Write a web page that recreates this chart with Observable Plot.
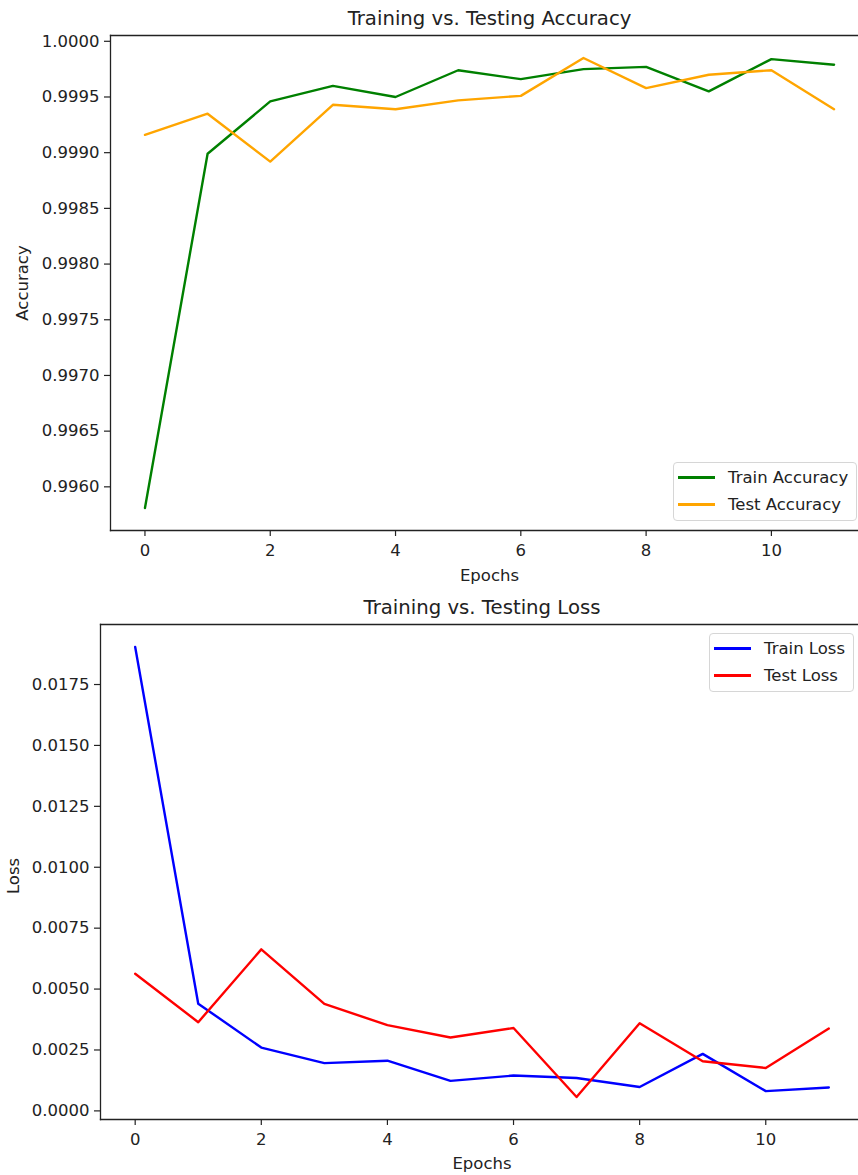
<!DOCTYPE html>
<html>
<head>
<meta charset="utf-8">
<script src="https://cdn.jsdelivr.net/npm/d3@7"></script>
<script src="https://cdn.jsdelivr.net/npm/@observablehq/plot@0.6"></script>
<style>
  html, body { margin: 0; padding: 0; background: #fff; }
  body { position: relative; width: 858px; height: 1175px; overflow: hidden; font-family: "DejaVu Sans", sans-serif; }
  .panel { position: absolute; left: 0; width: 858px; }
  .panel svg { max-width: none !important; display: block; }
  .legend {
    position: absolute; box-sizing: border-box; background: rgba(255,255,255,0.8);
    border: 1px solid #d6d6d6; border-radius: 4px; font-size: 16.5px; color: #222;
    padding: 1px 6px 0 4px;
  }
  .legend .row { display: flex; align-items: center; height: 27px; white-space: nowrap; }
  .legend .swatch { width: 37px; height: 2.5px; margin-right: 13px; }
</style>
</head>
<body>
<div id="acc" class="panel" style="top:0"></div>
<div id="loss" class="panel" style="top:590px"></div>
<script>
// Per-epoch training history
const epochs = [0, 1, 2, 3, 4, 5, 6, 7, 8, 9, 10, 11];
const trainAccuracy = [0.99581, 0.99899, 0.99946, 0.99960, 0.99950, 0.99974, 0.99966, 0.99975, 0.99977, 0.99955, 0.99984, 0.99979];
const testAccuracy  = [0.99916, 0.99935, 0.99892, 0.99943, 0.99939, 0.99947, 0.99951, 0.99985, 0.99958, 0.99970, 0.99974, 0.99939];
const trainLoss = [0.01904, 0.00440, 0.00260, 0.00196, 0.00206, 0.00123, 0.00145, 0.00135, 0.00098, 0.00234, 0.00081, 0.00096];
const testLoss  = [0.00563, 0.00364, 0.00663, 0.00439, 0.00352, 0.00301, 0.00340, 0.00057, 0.00360, 0.00204, 0.00176, 0.00338];

// Axis ticks
const epochTicks = [0, 2, 4, 6, 8, 10];
const accuracyTicks = [0.9960, 0.9965, 0.9970, 0.9975, 0.9980, 0.9985, 0.9990, 0.9995, 1.0000];
const lossTicks = [0.0000, 0.0025, 0.0050, 0.0075, 0.0100, 0.0125, 0.0150, 0.0175];

// Series labels and colours
const accuracySeries = [
  {name: "Train Accuracy", values: trainAccuracy, color: "green"},
  {name: "Test Accuracy", values: testAccuracy, color: "orange"}
];
const lossSeries = [
  {name: "Train Loss", values: trainLoss, color: "blue"},
  {name: "Test Loss", values: testLoss, color: "red"}
];

// Pad an extent by 5% on each side
function padded(values) {
  const [lo, hi] = d3.extent(values);
  const m = (hi - lo) * 0.05;
  return [lo - m, hi + m];
}

function toRows(series) {
  return series.flatMap(s => epochs.map((e, i) => ({epoch: e, value: s.values[i], series: s.name})));
}

const TEXT = "#222";

// The axes run a little past the right edge of the page, so the right margin is negative
function panel({series, ticks, title, yLabel, marginLeft, marginRight, marginTop, marginBottom, height, xLabelDy, yLabelDx, yLabelDy}) {
  const rows = toRows(series);
  const spine = {stroke: TEXT, strokeWidth: 1.3};
  return Plot.plot({
    width: 858,
    height,
    marginLeft, marginRight, marginTop, marginBottom,
    style: {fontFamily: "DejaVu Sans, sans-serif", fontSize: "16.5px", color: TEXT, background: "transparent", overflow: "hidden", maxWidth: "none"},
    x: {domain: padded(epochs), label: null},
    y: {domain: padded(rows.map(d => d.value)), label: null},
    color: {domain: series.map(s => s.name), range: series.map(s => s.color)},
    marks: [
      Plot.axisX({ticks: epochTicks, tickFormat: d3.format("d"), tickSize: 6, tickPadding: 7.5, stroke: TEXT, strokeWidth: 1.2, label: null}),
      Plot.axisY({ticks, tickFormat: d3.format(".4f"), tickSize: 6, tickPadding: 5, stroke: TEXT, strokeWidth: 1.2, label: null}),
      ...series.map(s => Plot.line(rows.filter(d => d.series === s.name), {
        x: "epoch", y: "value", stroke: "series", strokeWidth: 2.4, strokeLinejoin: "round"
      })),
      Plot.frame({anchor: "top", ...spine}),
      Plot.frame({anchor: "left", ...spine}),
      Plot.frame({anchor: "bottom", ...spine}),
      Plot.text([title], {frameAnchor: "top", lineAnchor: "middle", dy: -16.5, fontSize: 19.7, fill: TEXT}),
      Plot.text(["Epochs"], {frameAnchor: "bottom", lineAnchor: "middle", dy: xLabelDy, fill: TEXT}),
      Plot.text([yLabel], {frameAnchor: "left", lineAnchor: "middle", rotate: -90, textAnchor: "middle", dx: yLabelDx, dy: yLabelDy, fill: TEXT})
    ]
  });
}

function legend(series, box) {
  const el = document.createElement("div");
  el.className = "legend";
  Object.assign(el.style, box);
  for (const s of series) {
    const row = document.createElement("div");
    row.className = "row";
    const sw = document.createElement("span");
    sw.className = "swatch";
    sw.style.background = s.color;
    const label = document.createElement("span");
    label.textContent = s.name;
    row.append(sw, label);
    el.append(row);
  }
  return el;
}

const acc = document.getElementById("acc");
acc.append(panel({
  series: accuracySeries, ticks: accuracyTicks,
  title: "Training vs. Testing Accuracy", yLabel: "Accuracy",
  marginLeft: 110, marginRight: -10, marginTop: 35, marginBottom: 60, height: 590,
  xLabelDy: 45, yLabelDx: -87.3, yLabelDy: 0
}));
acc.append(legend(accuracySeries, {left: "673px", top: "462px", width: "184px", height: "59px"}));

const loss = document.getElementById("loss");
loss.append(panel({
  series: lossSeries, ticks: lossTicks,
  title: "Training vs. Testing Loss", yLabel: "Loss",
  marginLeft: 100, marginRight: -5, marginTop: 34, marginBottom: 56, height: 585,
  xLabelDy: 44, yLabelDx: -86.8, yLabelDy: 4
}));
loss.append(legend(lossSeries, {left: "709px", top: "43px", width: "145px", height: "59px"}));
</script>
</body>
</html>
